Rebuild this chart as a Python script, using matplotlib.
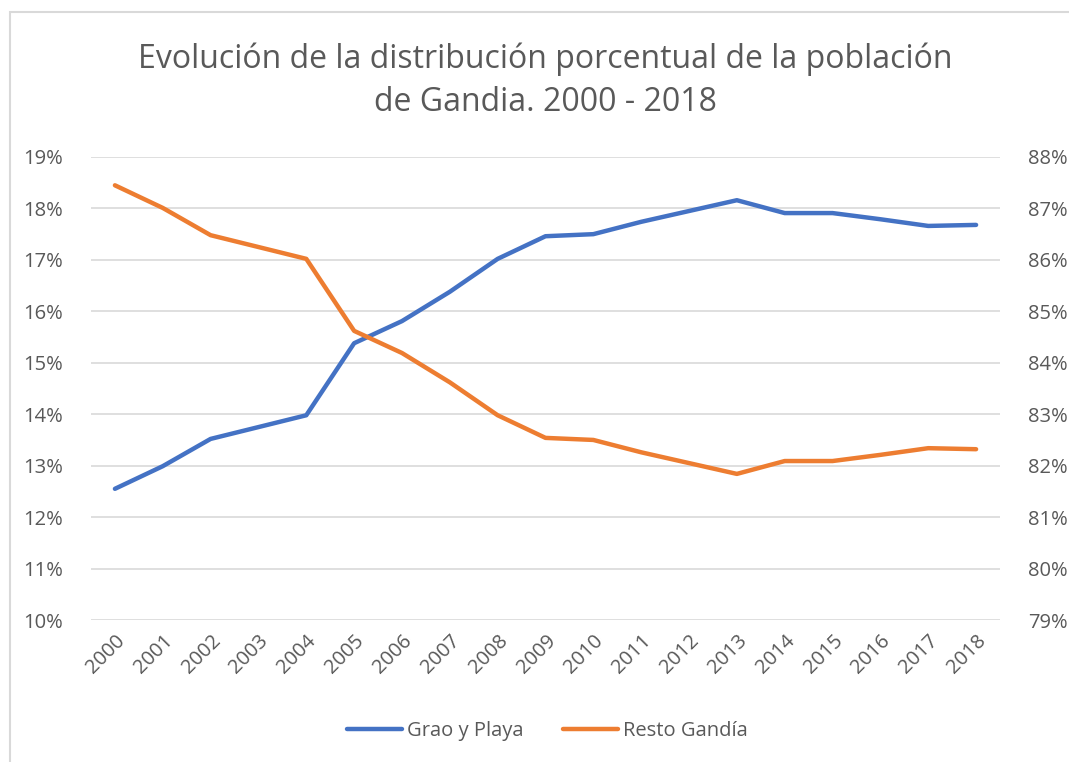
import matplotlib.pyplot as plt
from matplotlib.patches import Rectangle
from matplotlib.ticker import FuncFormatter

years = [str(y) for y in range(2000, 2019)]
grao_playa = [12.55, 12.99, 13.52, 13.75, 13.98, 15.38, 15.81, 16.38, 17.02, 17.46,
              17.50, 17.74, 17.95, 18.16, 17.91, 17.91, 17.79, 17.66, 17.68]
resto_gandia = [87.45, 87.01, 86.48, 86.25, 86.02, 84.62, 84.19, 83.62, 82.98, 82.54,
                82.50, 82.26, 82.05, 81.84, 82.09, 82.09, 82.21, 82.34, 82.32]

text_color = "#595959"
grid_color = "#D9D9D9"
plt.rcParams["font.family"] = ["Open Sans", "DejaVu Sans"]

fig = plt.figure(figsize=(10.69, 7.62), dpi=100)
# chart border, cut off on the right and at the bottom like the screenshot
fig.patches.append(Rectangle((10 / 1069, -0.05), 1.2, 1 - 12 / 762 + 0.05,
                             transform=fig.transFigure, fill=False,
                             edgecolor=grid_color, linewidth=1.5))

ax = fig.add_axes([91 / 1069, 1 - 620 / 762, (1000 - 91) / 1069, (620 - 157) / 762])
ax2 = ax.twinx()

x = list(range(len(years)))
l1, = ax.plot(x, grao_playa, color="#4472C4", linewidth=3.2, solid_capstyle="round",
              label="Grao y Playa")
l2, = ax2.plot(x, resto_gandia, color="#ED7D31", linewidth=3.2, solid_capstyle="round",
               label="Resto Gandía")

ax.set_ylim(10, 19)
ax2.set_ylim(79, 88)
ax.set_yticks(range(10, 20))
ax2.set_yticks(range(79, 89))
pct = FuncFormatter(lambda v, p: "%d%%" % v)
ax.yaxis.set_major_formatter(pct)
ax2.yaxis.set_major_formatter(pct)
ax.set_xlim(-0.5, len(years) - 0.5)
ax.set_xticks(x)
ax.set_xticklabels(years, rotation=45, ha="right", rotation_mode="anchor")
ax.grid(axis="y", color=grid_color, linewidth=1.2)
ax.set_axisbelow(True)

for a in (ax, ax2):
    for s in a.spines.values():
        s.set_visible(False)
    a.tick_params(length=0, colors=text_color, labelsize=14.5)
ax.tick_params(axis="y", pad=20)
ax2.tick_params(axis="y", pad=20)
ax.tick_params(axis="x", pad=8)

fig.text(0.51, 1 - 81 / 762, "Evolución de la distribución porcentual de la población\nde Gandia. 2000 - 2018",
         ha="center", va="center", fontsize=23, color=text_color, linespacing=1.4)

fig.legend(handles=[l1, l2], loc="center", bbox_to_anchor=(0.512, 1 - 731 / 762),
           ncol=2, frameon=False, fontsize=14.5, labelcolor=text_color,
           handlelength=2.7, columnspacing=2.0, handletextpad=0.25)

fig.savefig("out.png", dpi=100)
